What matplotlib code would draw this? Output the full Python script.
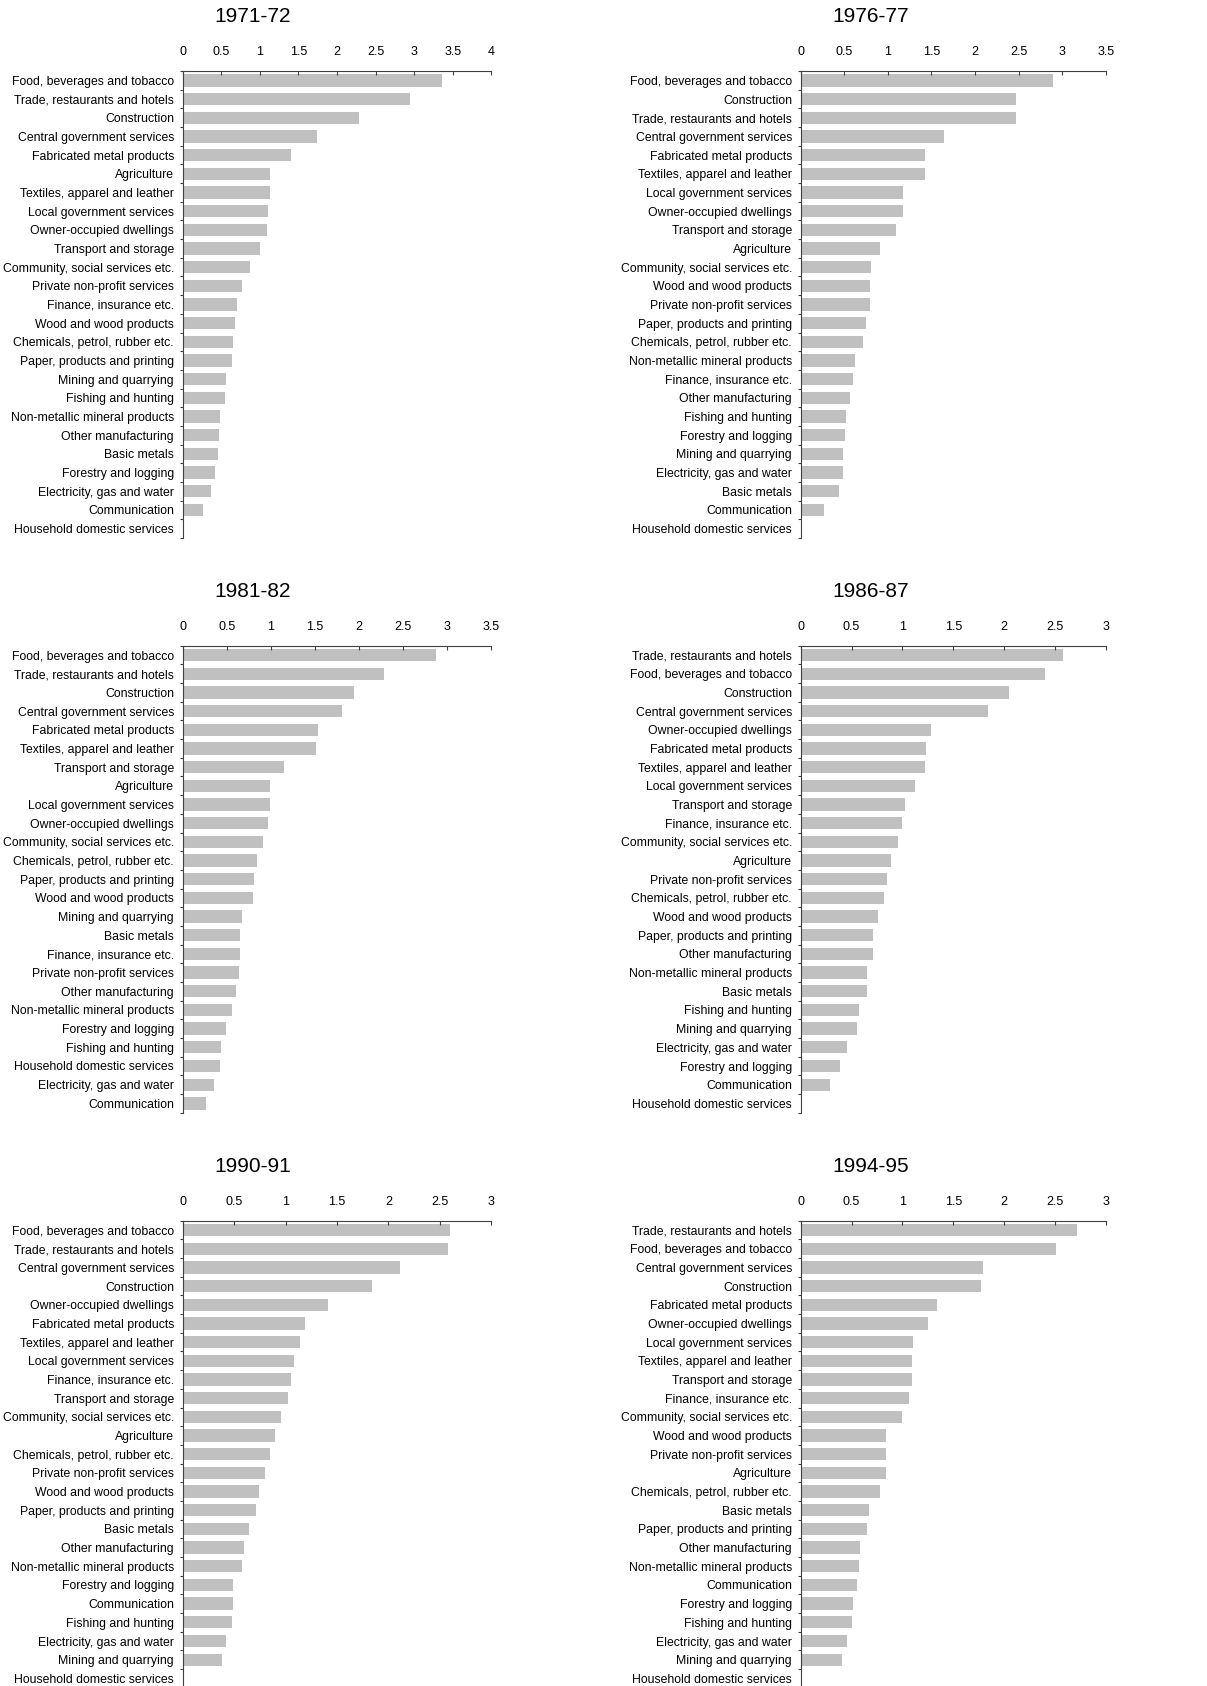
import numpy as np
import matplotlib
matplotlib.use("Agg")
import matplotlib.pyplot as plt
from matplotlib.ticker import FuncFormatter, FixedLocator

plt.rcParams['font.family'] = ['Liberation Sans', 'DejaVu Sans']

# ==================== DATA ====================

titles = ['1971-72', '1976-77', '1981-82', '1986-87', '1990-91', '1994-95']
x_max = [4, 3.5, 3.5, 3, 3, 3]

labels_7172 = ['Food, beverages and tobacco', 'Trade, restaurants and hotels', 'Construction',
               'Central government services', 'Fabricated metal products', 'Agriculture',
               'Textiles, apparel and leather', 'Local government services', 'Owner-occupied dwellings',
               'Transport and storage', 'Community, social services etc.', 'Private non-profit services',
               'Finance, insurance etc.', 'Wood and wood products', 'Chemicals, petrol, rubber etc.',
               'Paper, products and printing', 'Mining and quarrying', 'Fishing and hunting',
               'Non-metallic mineral products', 'Other manufacturing', 'Basic metals',
               'Forestry and logging', 'Electricity, gas and water', 'Communication',
               'Household domestic services']
vals_7172 = [3.36, 2.95, 2.28, 1.74, 1.41, 1.13, 1.13, 1.11, 1.09, 1.00, 0.87, 0.77, 0.71,
             0.68, 0.65, 0.64, 0.56, 0.55, 0.48, 0.47, 0.46, 0.42, 0.37, 0.26, 0.0]

labels_7677 = ['Food, beverages and tobacco', 'Construction', 'Trade, restaurants and hotels',
               'Central government services', 'Fabricated metal products', 'Textiles, apparel and leather',
               'Local government services', 'Owner-occupied dwellings', 'Transport and storage',
               'Agriculture', 'Community, social services etc.', 'Wood and wood products',
               'Private non-profit services', 'Paper, products and printing', 'Chemicals, petrol, rubber etc.',
               'Non-metallic mineral products', 'Finance, insurance etc.', 'Other manufacturing',
               'Fishing and hunting', 'Forestry and logging', 'Mining and quarrying',
               'Electricity, gas and water', 'Basic metals', 'Communication',
               'Household domestic services']
vals_7677 = [2.90, 2.47, 2.47, 1.65, 1.43, 1.43, 1.17, 1.17, 1.09, 0.91, 0.81, 0.80, 0.80,
             0.75, 0.72, 0.62, 0.60, 0.56, 0.52, 0.51, 0.48, 0.48, 0.44, 0.27, 0.0]

labels_8182 = ['Food, beverages and tobacco', 'Trade, restaurants and hotels', 'Construction',
               'Central government services', 'Fabricated metal products', 'Textiles, apparel and leather',
               'Transport and storage', 'Agriculture', 'Local government services',
               'Owner-occupied dwellings', 'Community, social services etc.', 'Chemicals, petrol, rubber etc.',
               'Paper, products and printing', 'Wood and wood products', 'Mining and quarrying',
               'Basic metals', 'Finance, insurance etc.', 'Private non-profit services',
               'Other manufacturing', 'Non-metallic mineral products', 'Forestry and logging',
               'Fishing and hunting', 'Household domestic services', 'Electricity, gas and water',
               'Communication']
vals_8182 = [2.87, 2.28, 1.94, 1.81, 1.54, 1.51, 1.15, 0.99, 0.99, 0.97, 0.91, 0.84, 0.81,
             0.80, 0.67, 0.65, 0.65, 0.64, 0.60, 0.56, 0.49, 0.44, 0.42, 0.36, 0.26]

labels_8687 = ['Trade, restaurants and hotels', 'Food, beverages and tobacco', 'Construction',
               'Central government services', 'Owner-occupied dwellings', 'Fabricated metal products',
               'Textiles, apparel and leather', 'Local government services', 'Transport and storage',
               'Finance, insurance etc.', 'Community, social services etc.', 'Agriculture',
               'Private non-profit services', 'Chemicals, petrol, rubber etc.', 'Wood and wood products',
               'Paper, products and printing', 'Other manufacturing', 'Non-metallic mineral products',
               'Basic metals', 'Fishing and hunting', 'Mining and quarrying',
               'Electricity, gas and water', 'Forestry and logging', 'Communication',
               'Household domestic services']
vals_8687 = [2.58, 2.40, 2.05, 1.84, 1.28, 1.23, 1.22, 1.12, 1.03, 1.00, 0.96, 0.89, 0.85,
             0.82, 0.76, 0.71, 0.71, 0.65, 0.65, 0.57, 0.55, 0.46, 0.39, 0.29, 0.0]

labels_9091 = ['Food, beverages and tobacco', 'Trade, restaurants and hotels', 'Central government services',
               'Construction', 'Owner-occupied dwellings', 'Fabricated metal products',
               'Textiles, apparel and leather', 'Local government services', 'Finance, insurance etc.',
               'Transport and storage', 'Community, social services etc.', 'Agriculture',
               'Chemicals, petrol, rubber etc.', 'Private non-profit services', 'Wood and wood products',
               'Paper, products and printing', 'Basic metals', 'Other manufacturing',
               'Non-metallic mineral products', 'Forestry and logging', 'Communication',
               'Fishing and hunting', 'Electricity, gas and water', 'Mining and quarrying',
               'Household domestic services']
vals_9091 = [2.60, 2.58, 2.11, 1.84, 1.41, 1.19, 1.14, 1.08, 1.05, 1.02, 0.96, 0.90, 0.85,
             0.80, 0.74, 0.71, 0.64, 0.60, 0.58, 0.49, 0.49, 0.48, 0.42, 0.38, 0.0]

labels_9495 = ['Trade, restaurants and hotels', 'Food, beverages and tobacco', 'Central government services',
               'Construction', 'Fabricated metal products', 'Owner-occupied dwellings',
               'Local government services', 'Textiles, apparel and leather', 'Transport and storage',
               'Finance, insurance etc.', 'Community, social services etc.', 'Wood and wood products',
               'Private non-profit services', 'Agriculture', 'Chemicals, petrol, rubber etc.',
               'Basic metals', 'Paper, products and printing', 'Other manufacturing',
               'Non-metallic mineral products', 'Communication', 'Forestry and logging',
               'Fishing and hunting', 'Electricity, gas and water', 'Mining and quarrying',
               'Household domestic services']
vals_9495 = [2.72, 2.51, 1.79, 1.77, 1.34, 1.25, 1.10, 1.09, 1.09, 1.07, 1.00, 0.84, 0.84,
             0.84, 0.78, 0.67, 0.65, 0.58, 0.57, 0.55, 0.51, 0.50, 0.46, 0.41, 0.0]

all_labels = [labels_7172, labels_7677, labels_8182, labels_8687, labels_9091, labels_9495]
all_vals = [vals_7172, vals_7677, vals_8182, vals_8687, vals_9091, vals_9495]

# ==================== LAYOUT ====================

W, H = 1207, 1686
fig = plt.figure(figsize=(W / 100, H / 100), dpi=100)

# axes boxes in pixels: (left, top, width, height)
col_left = [182.7, 800.7]
col_width = [308.6, 305.0]
row_top = [71.0, 645.7, 1220.7]
ax_h = 467.0

for k in range(6):
    r, c = k // 2, k % 2
    left = col_left[c] / W
    bottom = 1 - (row_top[r] + ax_h) / H
    ax = fig.add_axes([left, bottom, col_width[c] / W, ax_h / H])

    labels = all_labels[k]
    vals = all_vals[k]
    n = len(labels)
    y = np.arange(n)

    ax.barh(y, vals, height=0.66, color='#C0C0C0', edgecolor='none')

    ax.set_xlim(0, x_max[k])
    ax.set_ylim(n - 0.5, -0.5)

    # x axis on top, ticks pointing down
    ax.xaxis.tick_top()
    ax.set_xticks(np.arange(0, x_max[k] + 0.01, 0.5))
    ax.xaxis.set_major_formatter(FuncFormatter(lambda v, p: '%g' % v))
    ax.tick_params(axis='x', direction='in', length=3, width=0.8, color='#404040',
                   pad=9.5, labelsize=9, labelcolor='black')

    # category labels, with small marks between categories
    ax.set_yticks(y)
    ax.set_yticklabels(labels)
    ax.tick_params(axis='y', which='major', length=0, pad=6.3, labelsize=8.8, labelcolor='black')
    ax.yaxis.set_minor_locator(FixedLocator(np.arange(n + 1) - 0.5))
    ax.tick_params(axis='y', which='minor', direction='out', length=2.5, width=0.8, color='#404040')

    for s in ['right', 'bottom']:
        ax.spines[s].set_visible(False)
    for s in ['top', 'left']:
        ax.spines[s].set_color('#404040')
        ax.spines[s].set_linewidth(0.8)

    ax.annotate(titles[k], xy=(0, 1), xycoords='axes fraction',
                xytext=(70 * 0.72, 54 * 0.72), textcoords='offset points',
                ha='center', va='center', fontsize=15, color='black')

fig.savefig('out.png', dpi=100)
